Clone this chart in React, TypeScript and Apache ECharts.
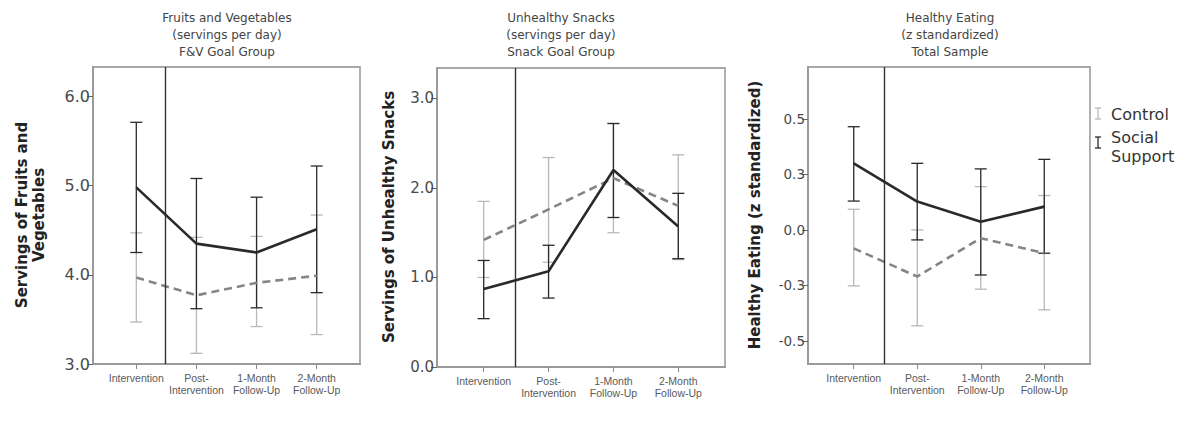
import React, { useEffect, useRef } from 'react';
import * as echarts from 'echarts';

const categories = ['Intervention', 'Post-\nIntervention', '1-Month\nFollow-Up', '2-Month\nFollow-Up'];

// Panel 1: Fruits and Vegetables
const fvSocialMean = [4.98, 4.35, 4.25, 4.51];
const fvSocialLow = [4.25, 3.62, 3.63, 3.8];
const fvSocialHigh = [5.71, 5.08, 4.87, 5.22];
const fvControlMean = [3.97, 3.77, 3.91, 3.99];
const fvControlLow = [3.47, 3.12, 3.42, 3.33];
const fvControlHigh = [4.47, 4.42, 4.43, 4.67];
const fvTicks = [3, 4, 5, 6];
const fvTickLabels = ['3.0', '4.0', '5.0', '6.0'];

// Panel 2: Unhealthy Snacks
const snSocialMean = [0.87, 1.07, 2.2, 1.57];
const snSocialLow = [0.54, 0.77, 1.67, 1.21];
const snSocialHigh = [1.19, 1.36, 2.72, 1.94];
const snControlMean = [1.42, 1.76, 2.11, 1.8];
const snControlLow = [1.0, 1.17, 1.5, 1.2];
const snControlHigh = [1.85, 2.34, 2.72, 2.37];
const snTicks = [0, 1, 2, 3];
const snTickLabels = ['0.0', '1.0', '2.0', '3.0'];

// Panel 3: Healthy Eating
const heSocialMean = [0.3, 0.128, 0.037, 0.105];
const heSocialLow = [0.13, -0.045, -0.203, -0.105];
const heSocialHigh = [0.465, 0.3, 0.275, 0.318];
const heControlMean = [-0.083, -0.21, -0.037, -0.105];
const heControlLow = [-0.252, -0.432, -0.267, -0.36];
const heControlHigh = [0.093, 0.0, 0.195, 0.155];
const heTicks = [-0.5, -0.25, 0, 0.25, 0.5];
const heTickLabels = ['-0.5', '-0.3', '0.0', '0.3', '0.5'];

const titles = [
  'Fruits and Vegetables\n(servings per day)\nF&V Goal Group',
  'Unhealthy Snacks\n(servings per day)\nSnack Goal Group',
  'Healthy Eating\n(z standardized)\nTotal Sample',
];
const yTitles = ['Servings of Fruits and\nVegetables', 'Servings of Unhealthy Snacks', 'Healthy Eating (z standardized)'];
const legendNames = ['Control', 'Social\nSupport'];

const FONT = '"Liberation Sans", Arial, sans-serif';
const WIDE = '"DejaVu Sans", "Liberation Sans", sans-serif';
const DIVIDER = 0.48;
const DARK = '#2a2a2a';
const LIGHT = '#b8b8b8';
const DASH = '#858585';

const grids = [
  { left: 93, top: 67, width: 267, height: 297 },
  { left: 437, top: 68, width: 288, height: 299 },
  { left: 808, top: 67, width: 282, height: 297 },
];
const yRanges = [
  [3, 6.33],
  [0, 3.34],
  [-0.604, 0.734],
];

function errorBars(gi: number, name: string, low: number[], high: number[], color: string, z: number) {
  return {
    type: 'custom',
    name,
    xAxisIndex: gi,
    yAxisIndex: gi,
    z,
    silent: true,
    data: low.map((l, i) => [i, l, high[i]]),
    encode: { x: 0, y: [1, 2] },
    renderItem: (params: any, api: any) => {
      const x = api.value(0);
      const lo = api.coord([x, api.value(1)]);
      const hi = api.coord([x, api.value(2)]);
      const w = 6;
      const style = { stroke: color, lineWidth: 1.3 };
      return {
        type: 'group',
        children: [
          { type: 'line', shape: { x1: lo[0], y1: lo[1], x2: hi[0], y2: hi[1] }, style },
          { type: 'line', shape: { x1: lo[0] - w, y1: lo[1], x2: lo[0] + w, y2: lo[1] }, style },
          { type: 'line', shape: { x1: hi[0] - w, y1: hi[1], x2: hi[0] + w, y2: hi[1] }, style },
        ],
      };
    },
  };
}

function lineSeries(gi: number, name: string, mean: number[], color: string, dashed: boolean, z: number, divider: boolean) {
  const s: any = {
    type: 'line',
    name,
    xAxisIndex: gi,
    yAxisIndex: gi,
    z,
    symbol: 'none',
    silent: true,
    data: mean.map((v, i) => [i, v]),
    lineStyle: { color, width: 2.6, type: dashed ? [8, 5] : 'solid' },
  };
  if (divider) {
    s.markLine = {
      silent: true,
      symbol: ['none', 'none'],
      label: { show: false },
      lineStyle: { color: '#333', width: 1.4, type: 'solid' },
      data: [{ xAxis: DIVIDER }],
    };
  }
  return s;
}

export default function App() {
  const ref = useRef<HTMLDivElement>(null);
  useEffect(() => {
    if (!ref.current) return;
    const chart = echarts.init(ref.current, undefined, { renderer: 'svg' });
    const tickSets = [fvTicks, snTicks, heTicks];
    const tickLabelSets = [fvTickLabels, snTickLabels, heTickLabels];
    const tickFontSizes = [16, 15, 13.5];
    const yTitleSizes = [15, 15, 15];
    const panels = [
      [fvSocialMean, fvSocialLow, fvSocialHigh, fvControlMean, fvControlLow, fvControlHigh],
      [snSocialMean, snSocialLow, snSocialHigh, snControlMean, snControlLow, snControlHigh],
      [heSocialMean, heSocialLow, heSocialHigh, heControlMean, heControlLow, heControlHigh],
    ];
    const series: any[] = [];
    panels.forEach((p, gi) => {
      series.push(errorBars(gi, 'Control', p[4], p[5], LIGHT, 2));
      series.push(errorBars(gi, 'Social Support', p[1], p[2], DARK, 3));
      series.push(lineSeries(gi, 'Control', p[3], DASH, true, 4, false));
      series.push(lineSeries(gi, 'Social Support', p[0], DARK, false, 5, true));
    });

    const titleCenters = [227, 561, 950];
    const yTitlePos = [
      [30, 215],
      [389, 217],
      [755, 215],
    ];
    const graphic: any[] = [];
    titles.forEach((t, i) => {
      graphic.push({
        type: 'text',
        x: titleCenters[i],
        y: 9,
        style: { text: t, font: `12px ${WIDE}`, fill: '#444', align: 'center', verticalAlign: 'top', lineHeight: 17 },
      });
    });
    yTitles.forEach((t, i) => {
      graphic.push({
        type: 'text',
        x: yTitlePos[i][0],
        y: yTitlePos[i][1],
        rotation: Math.PI / 2,
        style: { text: t, font: `bold ${yTitleSizes[i]}px ${WIDE}`, fill: '#222', align: 'center', verticalAlign: 'middle', lineHeight: 17 },
      });
    });
    // legend
    const legendIcons = [
      { y1: 108, y2: 119, color: LIGHT },
      { y1: 137, y2: 148, color: DARK },
    ];
    legendIcons.forEach((ic) => {
      const st = { stroke: ic.color, lineWidth: 1.3 };
      graphic.push({ type: 'line', shape: { x1: 1098, y1: ic.y1, x2: 1098, y2: ic.y2 }, style: st });
      graphic.push({ type: 'line', shape: { x1: 1095, y1: ic.y1, x2: 1101, y2: ic.y1 }, style: st });
      graphic.push({ type: 'line', shape: { x1: 1095, y1: ic.y2, x2: 1101, y2: ic.y2 }, style: st });
    });
    graphic.push({
      type: 'text', x: 1111, y: 114,
      style: { text: legendNames[0], font: `16px ${WIDE}`, fill: '#333', align: 'left', verticalAlign: 'middle' },
    });
    graphic.push({
      type: 'text', x: 1111, y: 147,
      style: { text: legendNames[1], font: `16px ${WIDE}`, fill: '#333', align: 'left', verticalAlign: 'middle', lineHeight: 19 },
    });

    chart.setOption({
      animation: false,
      backgroundColor: '#ffffff',
      textStyle: { fontFamily: FONT },
      grid: grids.map((g) => ({ ...g, show: true, borderColor: '#a8a8a8', borderWidth: 1.8, backgroundColor: 'transparent' })),
      xAxis: grids.map((g, gi) => ({
        type: 'value',
        gridIndex: gi,
        min: -0.72,
        max: 3.72,
        splitLine: { show: false },
        axisLine: { onZero: false, lineStyle: { color: '#9a9a9a', width: 2 } },
        axisTick: { customValues: [0, 1, 2, 3], length: 5, lineStyle: { color: '#888' } },
        axisLabel: {
          customValues: [0, 1, 2, 3],
          formatter: (v: number) => categories[Math.round(v)],
          fontSize: 10.5,
          color: '#5a5a5a',
          lineHeight: 12,
          margin: 8,
          verticalAlign: 'top',
        },
      })),
      yAxis: grids.map((g, gi) => ({
        type: 'value',
        gridIndex: gi,
        min: yRanges[gi][0],
        max: yRanges[gi][1],
        splitLine: { show: false },
        axisLine: { onZero: false, lineStyle: { color: '#9a9a9a', width: 2 } },
        axisTick: { customValues: tickSets[gi], length: 6, lineStyle: { color: '#666' } },
        axisLabel: {
          customValues: tickSets[gi],
          formatter: (v: number) => {
            const idx = tickSets[gi].findIndex((t) => Math.abs(t - v) < 1e-6);
            return idx >= 0 ? tickLabelSets[gi][idx] : '';
          },
          fontFamily: WIDE,
          fontSize: tickFontSizes[gi],
          color: '#4a4a4a',
          margin: 3,
        },
      })),
      series,
      graphic,
    });
    return () => chart.dispose();
  }, []);
  return <div ref={ref} style={{ position: 'fixed', left: 0, top: 0, width: 1202, height: 445 }} />;
}
